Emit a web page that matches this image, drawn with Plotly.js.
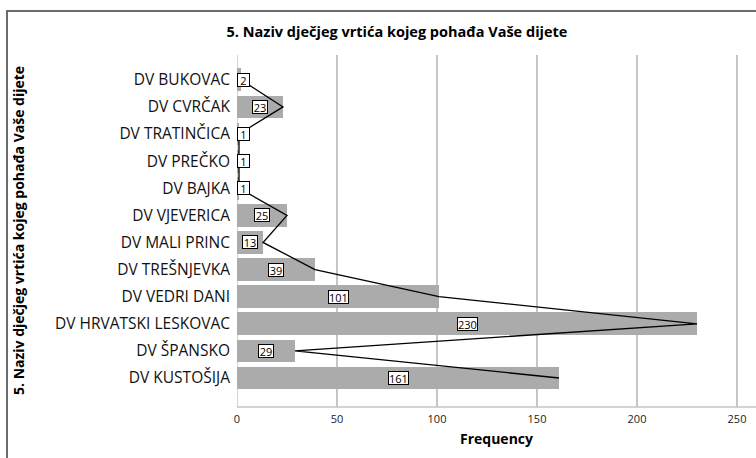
<!DOCTYPE html>
<html>
<head>
<meta charset="utf-8">
<script src="https://cdn.plot.ly/plotly-3.0.1.min.js"></script>
<style>
  html, body { margin: 0; padding: 0; background: #ffffff; }
  #wrap { position: relative; width: 756px; height: 458px; overflow: hidden; }
  #frame { position: absolute; left: 6px; top: 10px; width: 900px; height: 600px;
           border-left: 2px solid #6b6b6b; border-top: 2px solid #6b6b6b; }
  #chart { position: absolute; left: 0; top: 0; width: 756px; height: 458px; }
</style>
</head>
<body>
<div id="wrap">
  <div id="frame"></div>
  <div id="chart"></div>
</div>
<script>
// ---- data (top to bottom as shown) ----
const categories = [
  "DV BUKOVAC", "DV CVRČAK", "DV TRATINČICA", "DV PREČKO", "DV BAJKA",
  "DV VJEVERICA", "DV MALI PRINC", "DV TREŠNJEVKA", "DV VEDRI DANI",
  "DV HRVATSKI LESKOVAC", "DV ŠPANSKO", "DV KUSTOŠIJA"
];
const frequencies = [2, 23, 1, 1, 1, 25, 13, 39, 101, 230, 29, 161];
const xTickValues = [0, 50, 100, 150, 200, 250];

const chartTitle = "5. Naziv dječjeg vrtića kojeg pohađa Vaše dijete";
const yTitle = "5. Naziv dječjeg vrtića kojeg pohađa Vaše dijete";
const xTitle = "Frequency";

// ---- layout geometry ----
const W = 756, H = 458;
const mL = 237, mR = 0, mT = 55, mB = 51;
const plotW = W - mL - mR;
const pxPerUnit = 2.0;
const xMax = plotW / pxPerUnit;
const FONT = "Open Sans, Noto Sans, sans-serif";

const bars = {
  type: "bar",
  orientation: "h",
  x: frequencies,
  y: categories,
  width: 0.84,
  marker: { color: "#ababab", line: { width: 0 } },
  hoverinfo: "skip",
  showlegend: false
};

const line = {
  type: "scatter",
  mode: "lines",
  x: frequencies,
  y: categories,
  line: { color: "#000000", width: 1.3 },
  hoverinfo: "skip",
  showlegend: false
};

// labels: centred on bar, but kept inside from the axis for tiny bars
const minHalfUnits = 6 / pxPerUnit;
const labelAnnotations = frequencies.map((v, i) => {
  const t = String(v);
  const a = {
    x: Math.max(v / 2, minHalfUnits),
    y: categories[i],
    xref: "x", yref: "y",
    text: t,
    showarrow: false,
    xanchor: "center", yanchor: "middle",
    bgcolor: "#ffffff",
    bordercolor: "#000000",
    borderwidth: 1,
    borderpad: 0,
    height: 12,
    font: { family: FONT, size: 11, color: "#000000" }
  };
  if (t.length === 1) a.width = 11;
  else if (t.length === 2) a.width = 14;
  return a;
});

const yTitleAnn = {
  xref: "paper", yref: "paper",
  x: (18 - mL) / plotW, y: 0.5,
  xanchor: "center", yanchor: "middle",
  textangle: -90,
  showarrow: false,
  text: "<b>" + yTitle + "</b>",
  font: { family: FONT, size: 14, color: "#000000" }
};

const layout = {
  width: W, height: H,
  margin: { l: mL, r: mR, t: mT, b: mB, pad: 0 },
  paper_bgcolor: "rgba(0,0,0,0)",
  plot_bgcolor: "rgba(0,0,0,0)",
  bargap: 0,
  title: {
    text: "<b>" + chartTitle + "</b>",
    x: 397 / W, xref: "container", xanchor: "center",
    y: 1 - 32 / H, yref: "container", yanchor: "middle",
    font: { family: FONT, size: 14.5, color: "#000000" }
  },
  xaxis: {
    range: [0, xMax],
    tickmode: "array",
    tickvals: xTickValues,
    ticktext: xTickValues.map(String),
    showgrid: true,
    gridcolor: "#c6c6c6",
    gridwidth: 1.5,
    zeroline: false,
    showline: false,
    ticks: "",
    ticklabelstandoff: 4,
    tickfont: { family: FONT, size: 11, color: "#222222" },
    title: { text: "<b>" + xTitle + "</b>", standoff: 9,
             font: { family: FONT, size: 14, color: "#000000" } },
    fixedrange: true
  },
  yaxis: {
    type: "category",
    categoryorder: "array",
    categoryarray: categories,
    range: [12.07, -0.915],
    showgrid: false,
    zeroline: false,
    showline: false,
    ticks: "",
    ticklabelstandoff: 6,
    tickfont: { family: FONT, size: 15.5, color: "#111111" },
    fixedrange: true
  },
  shapes: [
    // axis baseline
    { type: "line", xref: "paper", yref: "paper", x0: 0, x1: 1, y0: 0, y1: 0,
      line: { color: "#c6c6c6", width: 1.5 }, layer: "below" },
    // vertical axis line at zero
    { type: "line", xref: "x", yref: "paper", x0: 0, x1: 0, y0: 0, y1: 1,
      line: { color: "#c6c6c6", width: 1.5 }, layer: "below" }
  ],
  annotations: labelAnnotations.concat([yTitleAnn])
};

Plotly.newPlot("chart", [bars, line], layout, { displayModeBar: false, staticPlot: true });
</script>
</body>
</html>
